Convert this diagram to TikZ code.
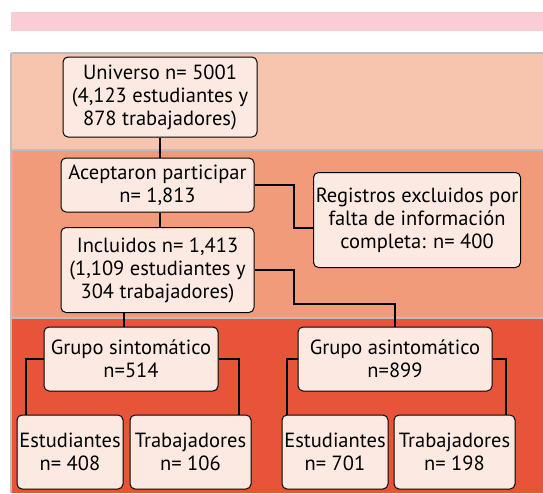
\documentclass[tikz,border=0pt]{standalone}
\usepackage{fontspec}
\setmainfont{PT Sans}

\definecolor{pinkbar}{HTML}{FACCD3}
\definecolor{bandA}{HTML}{F7C5AD}
\definecolor{bandB}{HTML}{F29B7B}
\definecolor{bandC}{HTML}{E8543A}
\definecolor{boxfill}{HTML}{FCEAE2}
\definecolor{rule}{HTML}{BDBDBD}

\begin{document}
\begin{tikzpicture}[x=1pt, y=-1pt,
	box/.style={draw, fill=boxfill, rounded corners=5pt, line width=1pt, align=center, inner sep=0pt, font=\fontsize{20.5}{23}\selectfont},
	link/.style={line width=2pt}]
	\useasboundingbox (0,0) rectangle (543,493);
	% background bands
	\fill[pinkbar] (11,12) rectangle (543,31);
	\fill[bandA] (11,53) rectangle (543,150);
	\fill[bandB] (11,150) rectangle (543,318);
	\fill[bandC] (11,318) rectangle (543,493);
	\draw[rule, line width=1.5pt] (11,53) -- (543,53);
	\draw[rule, line width=1.5pt] (11,150) -- (543,150);
	\draw[rule, line width=1.5pt] (11,318) -- (543,318);
	\draw[rule, line width=1.5pt] (11,53) -- (11,493);
	% boxes
	\node[box, minimum width=194pt, minimum height=80pt] (uni) at (160,97) {Universo n= 5001\\(4,123 estudiantes y\\878 trabajadores)};
	\node[box, minimum width=193pt, minimum height=54pt] (acep) at (157.5,185) {Aceptaron participar\\n= 1,813};
	\node[box, minimum width=207pt, minimum height=95pt] (reg) at (417,220) {Registros excluidos por\\falta de información\\completa: n= 400};
	\node[box, minimum width=193pt, minimum height=85pt] (incl) at (157.5,270) {Incluidos n= 1,413\\(1,109 estudiantes y\\304 trabajadores)};
	\node[box, minimum width=174pt, minimum height=64pt] (sint) at (131,359) {Grupo sintomático\\n=514};
	\node[box, minimum width=194pt, minimum height=64pt] (asin) at (395,359) {Grupo asintomático\\n=899};
	\node[box, minimum width=106pt, minimum height=74pt] (est1) at (70,452) {Estudiantes\\n= 408};
	\node[box, minimum width=121pt, minimum height=74pt] (trab1) at (190.5,452) {Trabajadores\\n= 106};
	\node[box, minimum width=106pt, minimum height=74pt] (est2) at (335,452) {Estudiantes\\n= 701};
	\node[box, minimum width=121pt, minimum height=74pt] (trab2) at (454.5,452) {Trabajadores\\n= 198};
	% connectors
	\coordinate (k1) at (294,228);
	\coordinate (k2) at (294,304);
	\coordinate (k3) at (124,0);
	\draw[link] (uni.south) -- (uni.south |- acep.north);
	\draw[link] (acep.south -| uni.south) -- (incl.north -| uni.south);
	\draw[link] (acep.east) -| (k1) -- (k1 -| reg.west);
	\draw[link] (incl.east) -| (k2) -| (asin.north);
	\draw[link] (incl.south -| k3) -- (sint.north -| k3);
	\draw[link] (sint.west) -| ([xshift=9pt]est1.north west);
	\draw[link] (sint.east) -| ([xshift=-13pt]trab1.north east);
	\draw[link] (asin.west) -| ([xshift=5pt]est2.north west);
	\draw[link] (asin.east) -| ([xshift=-10pt]trab2.north east);
\end{tikzpicture}
\end{document}
